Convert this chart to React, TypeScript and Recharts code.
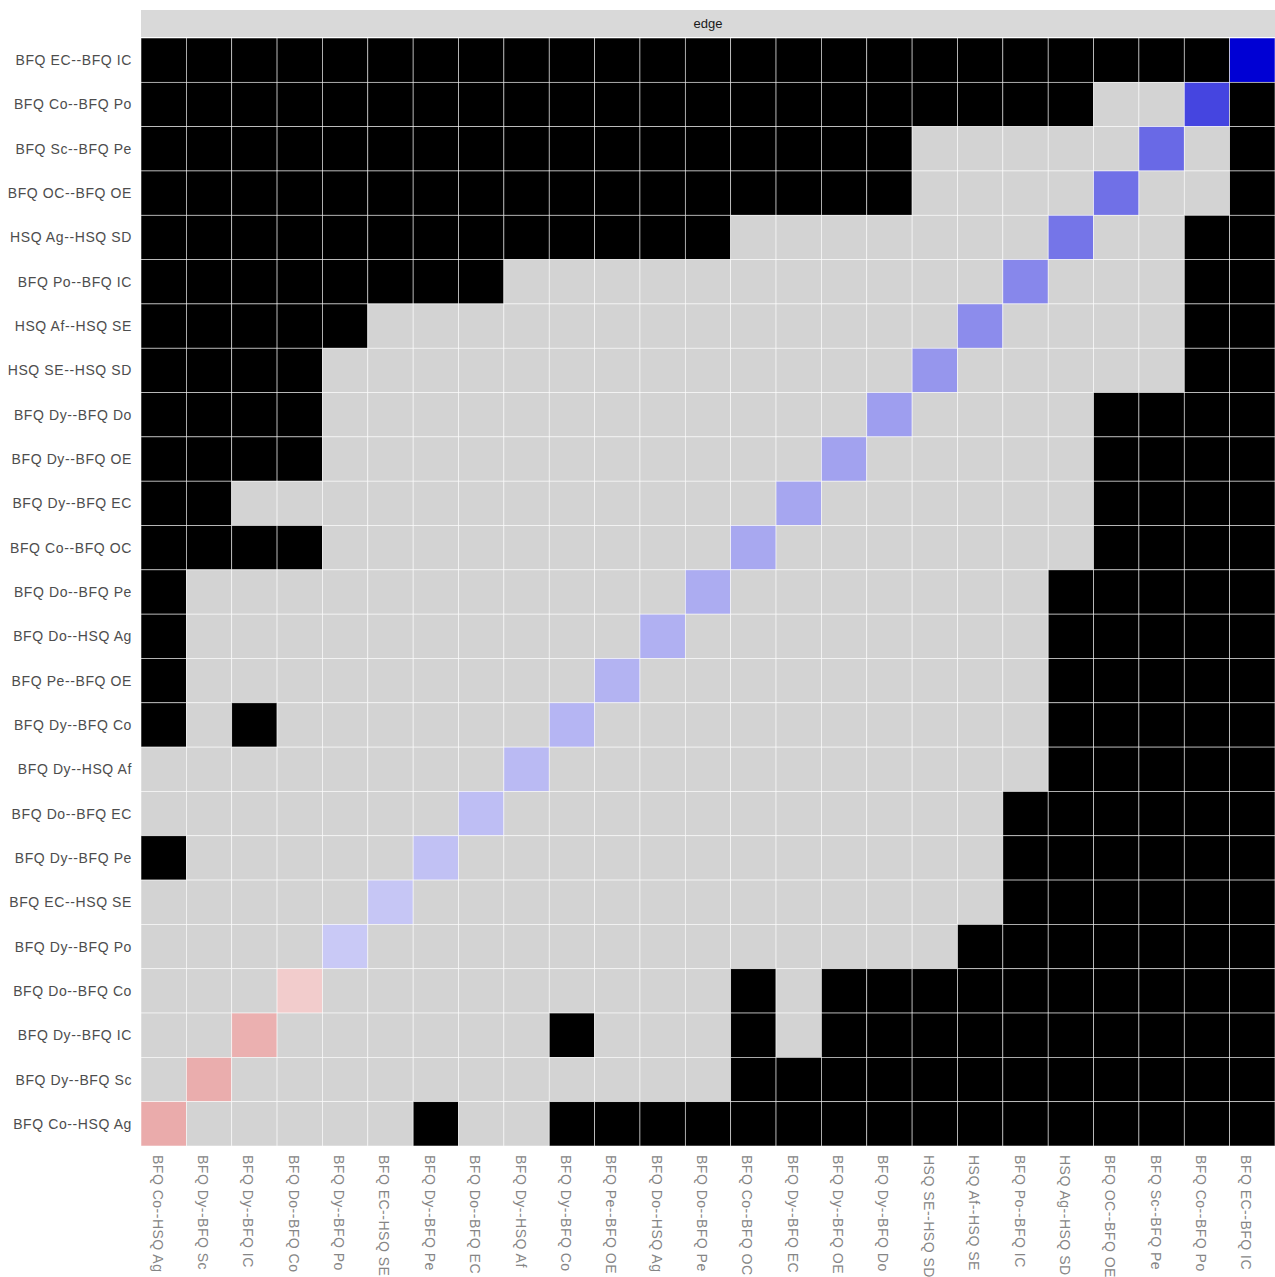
import React from 'react'
import { ScatterChart, Scatter, XAxis, YAxis } from 'recharts'

// edge names, top to bottom on the y axis
const rowLabels = [
  'BFQ EC--BFQ IC', 'BFQ Co--BFQ Po', 'BFQ Sc--BFQ Pe', 'BFQ OC--BFQ OE', 'HSQ Ag--HSQ SD',
  'BFQ Po--BFQ IC', 'HSQ Af--HSQ SE', 'HSQ SE--HSQ SD', 'BFQ Dy--BFQ Do', 'BFQ Dy--BFQ OE',
  'BFQ Dy--BFQ EC', 'BFQ Co--BFQ OC', 'BFQ Do--BFQ Pe', 'BFQ Do--HSQ Ag', 'BFQ Pe--BFQ OE',
  'BFQ Dy--BFQ Co', 'BFQ Dy--HSQ Af', 'BFQ Do--BFQ EC', 'BFQ Dy--BFQ Pe', 'BFQ EC--HSQ SE',
  'BFQ Dy--BFQ Po', 'BFQ Do--BFQ Co', 'BFQ Dy--BFQ IC', 'BFQ Dy--BFQ Sc', 'BFQ Co--HSQ Ag',
]
// x axis runs the other way round
const colLabels = [...rowLabels].reverse()

// 1 = significant difference (black), 0 = not (grey), d = the edge itself
const sigRows = [
  '111111111111111111111111d',
  '11111111111111111111100d1',
  '1111111111111111100000d01',
  '111111111111111110000d001',
  '11111111111110000000d0011',
  '1111111100000000000d00011',
  '111110000000000000d000011',
  '11110000000000000d0000011',
  '1111000000000000d00001111',
  '111100000000000d000001111',
  '11000000000000d0000001111',
  '1111000000000d00000001111',
  '100000000000d000000011111',
  '10000000000d0000000011111',
  '1000000000d00000000011111',
  '101000000d000000000011111',
  '00000000d0000000000011111',
  '0000000d00000000000111111',
  '100000d000000000000111111',
  '00000d0000000000000111111',
  '0000d00000000000001111111',
  '000d000000000101111111111',
  '00d0000001000101111111111',
  '0d00000000000111111111111',
  'd000001001111111111111111',
]

// edge weight on the diagonal, per row
const diagValues = [
  1.0, 0.73, 0.59, 0.56, 0.54, 0.47, 0.45, 0.41, 0.38, 0.365,
  0.35, 0.34, 0.325, 0.31, 0.3, 0.29, 0.27, 0.255, 0.245, 0.225,
  0.21, -0.2, -0.31, -0.32, -0.33,
]

const W = 1275
const H = 1277
const LEFT = 141
const TOP = 38
const BOTTOM = 1146
const N = rowLabels.length
const CW = (W - LEFT) / N
const CH = (BOTTOM - TOP) / N

function diagColor(v: number) {
  const t = Math.min(1, Math.abs(v))
  if (v >= 0) {
    const c = Math.round(255 * (1 - t))
    return `rgb(${c},${c},${Math.round(255 - 43 * t)})`
  }
  const c = Math.round(255 * (1 - t))
  return `rgb(${Math.round(255 - 65 * t)},${c},${c})`
}

const cells = sigRows.flatMap((row, i) =>
  row.split('').map((ch, j) => ({
    x: j,
    y: i,
    fill: ch === 'd' ? diagColor(diagValues[i]) : ch === '1' ? '#000000' : '#d3d3d3',
  }))
)

const idx = Array.from({ length: N }, (_, k) => k)

const Tile = (props: any) => {
  const { cx, cy, payload } = props
  return (
    <rect x={cx - CW / 2} y={cy - CH / 2} width={CW} height={CH}
      fill={payload.fill} stroke="#ffffff" strokeOpacity={0.75} strokeWidth={0.7} />
  )
}

const XTick = (props: any) => {
  const { x, payload } = props
  const tx = x - 11
  const ty = BOTTOM + 9
  return (
    <text x={tx} y={ty} transform={`rotate(90, ${tx}, ${ty})`} textAnchor="start"
      fontSize={14} letterSpacing={0.5} fill="#858585" fontFamily="Liberation Sans, Arial, sans-serif">
      {colLabels[payload.value]}
    </text>
  )
}

const YTick = (props: any) => {
  const { y, payload } = props
  return (
    <text x={132} y={y} textAnchor="end" dominantBaseline="central"
      fontSize={14} letterSpacing={0.6} fill="#4d4d4d" fontFamily="Liberation Sans, Arial, sans-serif">
      {rowLabels[payload.value]}
    </text>
  )
}

export default function App() {
  return (
    <div style={{ position: 'absolute', left: 0, top: 0, width: W, height: H, background: '#ffffff' }}>
      <div style={{
        position: 'absolute', left: LEFT, top: 10, width: W - LEFT, height: 27, background: '#d9d9d9',
        display: 'flex', alignItems: 'center', justifyContent: 'center',
        fontFamily: 'Liberation Sans, Arial, sans-serif', fontSize: 13, color: '#1a1a1a',
      }}>
        edge
      </div>
      <ScatterChart width={W} height={H} margin={{ top: TOP, right: 0, left: 0, bottom: 0 }}>
        <XAxis type="number" dataKey="x" domain={[-0.5, N - 0.5]} ticks={idx} interval={0}
          axisLine={false} tickLine={false} height={H - BOTTOM} tick={<XTick />} />
        <YAxis type="number" dataKey="y" domain={[-0.5, N - 0.5]} ticks={idx} interval={0} reversed
          axisLine={false} tickLine={false} width={LEFT} tick={<YTick />} />
        <Scatter data={cells} shape={<Tile />} isAnimationActive={false} />
      </ScatterChart>
    </div>
  )
}
